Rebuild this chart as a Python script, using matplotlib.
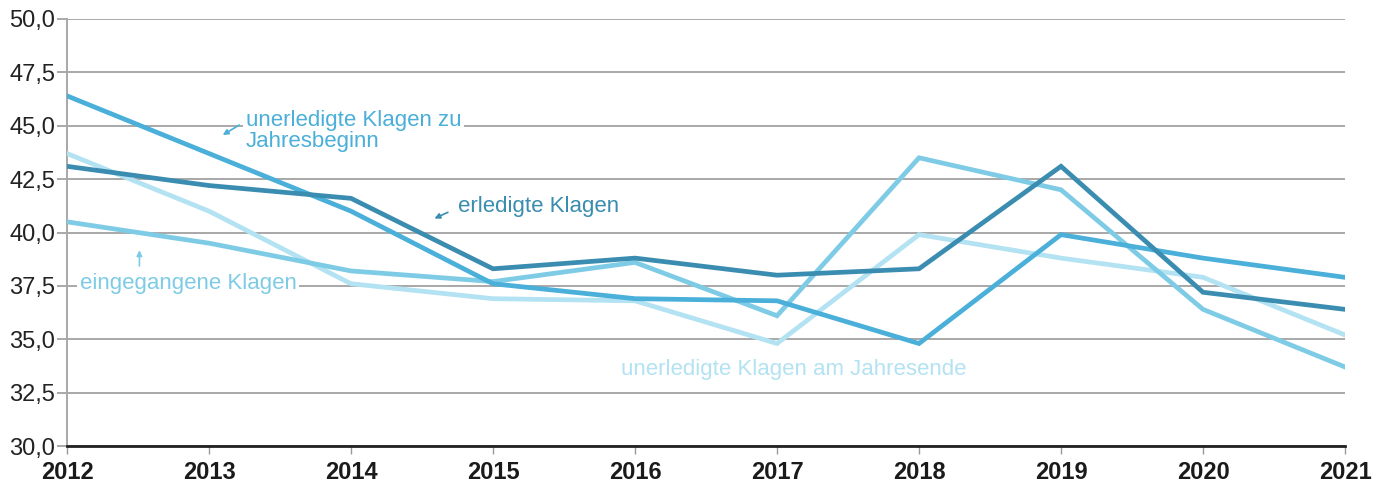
import matplotlib
matplotlib.use("Agg")
import matplotlib.pyplot as plt

# DATEN
jahre = [2012, 2013, 2014, 2015, 2016, 2017, 2018, 2019, 2020, 2021]
jahresbeginn = [46.4, 43.7, 41.0, 37.6, 36.9, 36.8, 34.8, 39.9, 38.8, 37.9]
erledigt = [43.1, 42.2, 41.6, 38.3, 38.8, 38.0, 38.3, 43.1, 37.2, 36.4]
eingegangen = [40.5, 39.5, 38.2, 37.7, 38.6, 36.1, 43.5, 42.0, 36.4, 33.7]
jahresende = [43.7, 41.0, 37.6, 36.9, 36.8, 34.8, 39.9, 38.8, 37.9, 35.2]
y_ticks = [30.0, 32.5, 35.0, 37.5, 40.0, 42.5, 45.0, 47.5, 50.0]

# FARBEN
C_BEGINN = "#4aafd9"
C_ERLEDIGT = "#3a8db0"
C_EINGANG = "#7ecbe6"
C_ENDE = "#b3e2f2"

plt.rcParams['font.family'] = ['Liberation Sans', 'DejaVu Sans']

fig = plt.figure(figsize=(13.89, 4.88), dpi=100)
ax = fig.add_axes([67/1389, 1 - 446/488, (1345-67)/1389, (446-19)/488])

lw = 3.4
ax.plot(jahre, jahresende, color=C_ENDE, lw=lw, zorder=3, solid_joinstyle='miter')
ax.plot(jahre, eingegangen, color=C_EINGANG, lw=lw, zorder=4, solid_joinstyle='miter')
ax.plot(jahre, jahresbeginn, color=C_BEGINN, lw=lw, zorder=5, solid_joinstyle='miter')
ax.plot(jahre, erledigt, color=C_ERLEDIGT, lw=lw, zorder=6, solid_joinstyle='miter')

ax.set_xlim(2012, 2021)
ax.set_ylim(30, 50)
ax.set_yticks(y_ticks)
ax.set_yticklabels([f"{v:.1f}".replace(".", ",") for v in y_ticks], fontsize=17, color="#222222")
ax.set_xticks(jahre)
ax.set_xticklabels([str(j) for j in jahre], fontsize=17, fontweight='bold', color="#1a1a1a")

ax.grid(axis='y', color="#a8a8a8", lw=1.4, zorder=0)
ax.tick_params(axis='y', length=7, color="#a8a8a8", width=1.4, pad=1.5)
ax.tick_params(axis='x', length=6, color="#999999", width=1.0, pad=5)
for s in ['top', 'right']:
    ax.spines[s].set_visible(False)
ax.spines['left'].set_color("#a8a8a8")
ax.spines['left'].set_linewidth(1.4)
ax.spines['bottom'].set_color("#222222")
ax.spines['bottom'].set_linewidth(2.0)
ax.spines['bottom'].set_zorder(7)

# BESCHRIFTUNGEN
box = dict(facecolor='white', edgecolor='none', pad=2)
ax.text(2013.26, 44.75, "unerledigte Klagen zu\nJahresbeginn", color=C_BEGINN, fontsize=16,
        va='center', ha='left', linespacing=1.05, bbox=box, zorder=2)
ax.annotate("", xy=(2013.08, 44.5), xytext=(2013.23, 45.1),
            arrowprops=dict(arrowstyle='-|>', color=C_BEGINN, lw=1.2, mutation_scale=8), zorder=2)

ax.text(2014.75, 41.2, "erledigte Klagen", color=C_ERLEDIGT, fontsize=16, va='center', ha='left', zorder=2)
ax.annotate("", xy=(2014.57, 40.6), xytext=(2014.70, 41.0),
            arrowprops=dict(arrowstyle='-|>', color=C_ERLEDIGT, lw=1.2, mutation_scale=8), zorder=2)

ax.text(2012.09, 37.6, "eingegangene Klagen", color=C_EINGANG, fontsize=16, va='center', ha='left',
        bbox=box, zorder=2)
ax.annotate("", xy=(2012.51, 39.3), xytext=(2012.51, 38.3),
            arrowprops=dict(arrowstyle='-|>', color=C_EINGANG, lw=1.2, mutation_scale=8), zorder=2)

ax.text(2015.90, 33.6, "unerledigte Klagen am Jahresende", color=C_ENDE, fontsize=16, va='center',
        ha='left', zorder=2)

fig.savefig("out.png", dpi=100)
